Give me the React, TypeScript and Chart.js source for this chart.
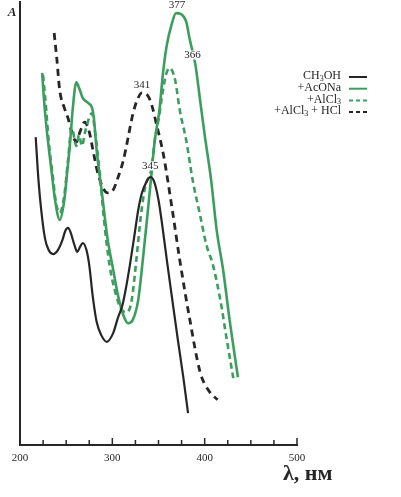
import React, { useEffect, useRef } from 'react';
import { Chart, registerables } from 'chart.js';

Chart.register(...registerables);

// ---- Data (wavelength, nm / absorbance, arbitrary units) ----
const methanolNm = [217, 220, 223, 227, 231, 236, 241, 246, 249, 252, 255, 259, 262, 265, 268, 272, 275, 279, 283, 288, 294, 301, 306, 311, 315, 319, 324, 328, 332, 337, 341, 345, 350, 354, 359, 365, 371, 377, 382];
const methanolA = [0.695, 0.598, 0.530, 0.467, 0.440, 0.431, 0.440, 0.463, 0.483, 0.490, 0.479, 0.451, 0.436, 0.447, 0.456, 0.440, 0.406, 0.332, 0.278, 0.248, 0.233, 0.253, 0.287, 0.316, 0.357, 0.406, 0.474, 0.530, 0.569, 0.594, 0.605, 0.596, 0.553, 0.497, 0.418, 0.327, 0.237, 0.151, 0.072];

const acetateNm = [224, 226, 229, 234, 238, 243, 248, 251, 254, 257, 261, 264, 268, 274, 278, 280, 283, 289, 295, 301, 306, 312, 317, 322, 328, 333, 338, 342, 346, 351, 355, 359, 364, 369, 374, 380, 384, 390, 395, 400, 407, 413, 420, 427, 436];
const acetateA = [0.840, 0.779, 0.711, 0.621, 0.553, 0.508, 0.553, 0.614, 0.677, 0.756, 0.819, 0.806, 0.783, 0.772, 0.761, 0.738, 0.666, 0.564, 0.463, 0.395, 0.339, 0.293, 0.275, 0.282, 0.327, 0.418, 0.519, 0.603, 0.688, 0.756, 0.842, 0.903, 0.948, 0.975, 0.973, 0.955, 0.914, 0.858, 0.779, 0.700, 0.598, 0.485, 0.395, 0.282, 0.153];

const alcl3Nm = [225, 228, 231, 236, 239, 243, 248, 252, 256, 261, 264, 267, 271, 278, 281, 286, 291, 297, 304, 310, 316, 321, 326, 331, 336, 342, 346, 350, 354, 358, 362, 368, 373, 380, 387, 395, 402, 409, 417, 424, 431];
const alcl3A = [0.835, 0.767, 0.688, 0.598, 0.546, 0.524, 0.564, 0.643, 0.716, 0.675, 0.700, 0.675, 0.711, 0.749, 0.711, 0.621, 0.508, 0.406, 0.339, 0.305, 0.300, 0.327, 0.418, 0.519, 0.587, 0.621, 0.688, 0.734, 0.790, 0.835, 0.851, 0.824, 0.756, 0.688, 0.598, 0.519, 0.451, 0.406, 0.327, 0.237, 0.151];

const alcl3HclNm = [237, 240, 243, 248, 252, 256, 261, 265, 270, 275, 279, 284, 290, 295, 301, 306, 312, 317, 322, 327, 332, 338, 343, 348, 355, 365, 373, 384, 395, 404, 414];
const alcl3HclA = [0.930, 0.869, 0.801, 0.761, 0.738, 0.707, 0.684, 0.707, 0.729, 0.707, 0.666, 0.616, 0.580, 0.569, 0.576, 0.603, 0.643, 0.693, 0.745, 0.779, 0.795, 0.790, 0.765, 0.722, 0.659, 0.530, 0.418, 0.282, 0.165, 0.124, 0.102];

const seriesLabels = ['CH₃OH', '+AcONa', '+AlCl₃', '+AlCl₃ + HCl'];
const peakLabels = ['345', '377', '366', '341'];
const xMin = 200;
const xMax = 500;
const xStep = 25;
const xLabelStep = 100;
const xTitle = 'λ, нм';
const yTitle = 'A';

// ---- Styles ----
const BLACK = '#262626';
const GREEN = '#3d9d5e';
const SERIF = '"Liberation Serif", "Times New Roman", serif';

function drawRich(ctx: CanvasRenderingContext2D, text: string, x: number, y: number, size: number, align: 'left' | 'right' | 'center') {
  const segs: { t: string; sub: boolean }[] = [];
  for (const ch of text) {
    const sub = ch === '₃';
    const t = sub ? '3' : ch;
    const last = segs[segs.length - 1];
    if (last && last.sub === sub) last.t += t; else segs.push({ t, sub });
  }
  const font = (s: boolean) => `${s ? Math.round(size * 0.7) : size}px ${SERIF}`;
  let total = 0;
  segs.forEach(s => { ctx.font = font(s.sub); total += ctx.measureText(s.t).width; });
  let cx = align === 'right' ? x - total : align === 'center' ? x - total / 2 : x;
  ctx.textAlign = 'left';
  ctx.textBaseline = 'middle';
  segs.forEach(s => {
    ctx.font = font(s.sub);
    ctx.fillText(s.t, cx, s.sub ? y + size * 0.25 : y);
    cx += ctx.measureText(s.t).width;
  });
  return total;
}

const decorPlugin = {
  id: 'decor',
  afterDatasetsDraw(chart: any) {
    const ctx: CanvasRenderingContext2D = chart.ctx;
    const xs = chart.scales.x;
    const ys = chart.scales.y;
    ctx.save();

    // inward tick marks on the wavelength axis
    ctx.strokeStyle = BLACK;
    ctx.lineWidth = 1.5;
    xs.ticks.forEach((t: any) => {
      if (t.value <= xMin) return;
      const px = xs.getPixelForValue(t.value);
      const len = t.value % xLabelStep === 0 ? 7 : 5;
      ctx.beginPath();
      ctx.moveTo(px, xs.top);
      ctx.lineTo(px, xs.top - len);
      ctx.stroke();
    });

    // peak labels
    const offsets = [[0, -11], [1, -8], [23, -13], [0, -8]];
    peakLabels.forEach((lab, i) => {
      const ds = chart.data.datasets[i];
      const target = Number(lab);
      let best: any = null;
      ds.data.forEach((p: any) => {
        if (Math.abs(p.x - target) <= 15 && (!best || p.y > best.y)) best = p;
      });
      if (!best) return;
      const px = xs.getPixelForValue(best.x) + offsets[i][0];
      const py = ys.getPixelForValue(best.y) + offsets[i][1];
      ctx.font = `11px ${SERIF}`;
      const w = ctx.measureText(lab).width;
      ctx.fillStyle = '#ffffff';
      ctx.fillRect(px - w / 2 - 1, py - 4.5, w + 2, 9);
      ctx.fillStyle = BLACK;
      ctx.textAlign = 'center';
      ctx.textBaseline = 'middle';
      ctx.fillText(lab, px, py);
    });

    // legend
    const textRight = 341;
    const lineX0 = 349;
    const lineX1 = 367;
    chart.data.datasets.forEach((ds: any, i: number) => {
      const y = 76 + i * 11.7;
      ctx.fillStyle = BLACK;
      drawRich(ctx, ds.label, textRight, y, 12, 'right');
      ctx.strokeStyle = ds.borderColor;
      ctx.lineWidth = 2;
      ctx.setLineDash(ds.borderDash && ds.borderDash.length ? [4, 3] : []);
      ctx.beginPath();
      ctx.moveTo(lineX0, y + 1);
      ctx.lineTo(lineX1, y + 1);
      ctx.stroke();
      ctx.setLineDash([]);
    });

    // axis titles
    ctx.fillStyle = BLACK;
    ctx.font = `italic bold 13px ${SERIF}`;
    ctx.textAlign = 'center';
    ctx.textBaseline = 'middle';
    ctx.fillText(yTitle, 12, 13);
    ctx.font = `bold 22px ${SERIF}`;
    ctx.textAlign = 'left';
    ctx.textBaseline = 'alphabetic';
    ctx.fillText(xTitle, 283, 480);

    ctx.restore();
  },
};

const toPoints = (xs: number[], ys: number[]) => xs.map((x, i) => ({ x, y: ys[i] }));

export default function App() {
  const ref = useRef<HTMLCanvasElement | null>(null);
  useEffect(() => {
    if (!ref.current) return;
    const common = { pointRadius: 0, fill: false, cubicInterpolationMode: 'monotone' as const };
    const chart = new Chart(ref.current, {
      type: 'line',
      data: {
        datasets: [
          { ...common, label: seriesLabels[0], data: toPoints(methanolNm, methanolA), borderColor: BLACK, borderWidth: 2.2 },
          { ...common, label: seriesLabels[1], data: toPoints(acetateNm, acetateA), borderColor: GREEN, borderWidth: 2.6 },
          { ...common, label: seriesLabels[2], data: toPoints(alcl3Nm, alcl3A), borderColor: GREEN, borderWidth: 2.6, borderDash: [6, 4] },
          { ...common, label: seriesLabels[3], data: toPoints(alcl3HclNm, alcl3HclA), borderColor: BLACK, borderWidth: 2.8, borderDash: [7, 5] },
        ],
      },
      options: {
        responsive: false,
        animation: false,
        layout: { padding: { top: 2, right: 104, left: 0, bottom: 0 } },
        plugins: { legend: { display: false }, tooltip: { enabled: false } },
        scales: {
          x: {
            type: 'linear',
            min: xMin,
            max: xMax,
            grid: { display: false },
            border: { display: true, color: BLACK, width: 2 },
            ticks: {
              stepSize: xStep,
              autoSkip: false,
              maxRotation: 0,
              padding: -1,
              color: BLACK,
              font: { family: SERIF, size: 11 },
              callback: (v: any) => (Number(v) % xLabelStep === 0 ? String(v) : ''),
            },
            afterFit: (s: any) => { s.height = 52; },
          },
          y: {
            type: 'linear',
            min: 0,
            max: 1,
            grid: { display: false },
            border: { display: true, color: BLACK, width: 2 },
            ticks: { display: false },
            afterFit: (s: any) => { s.width = 20; },
          },
        },
      },
      plugins: [decorPlugin],
    });
    return () => chart.destroy();
  }, []);
  return (
    <div style={{ position: 'fixed', left: 0, top: 0, width: 401, height: 497, background: '#fff' }}>
      <canvas ref={ref} width={401} height={497} />
    </div>
  );
}
